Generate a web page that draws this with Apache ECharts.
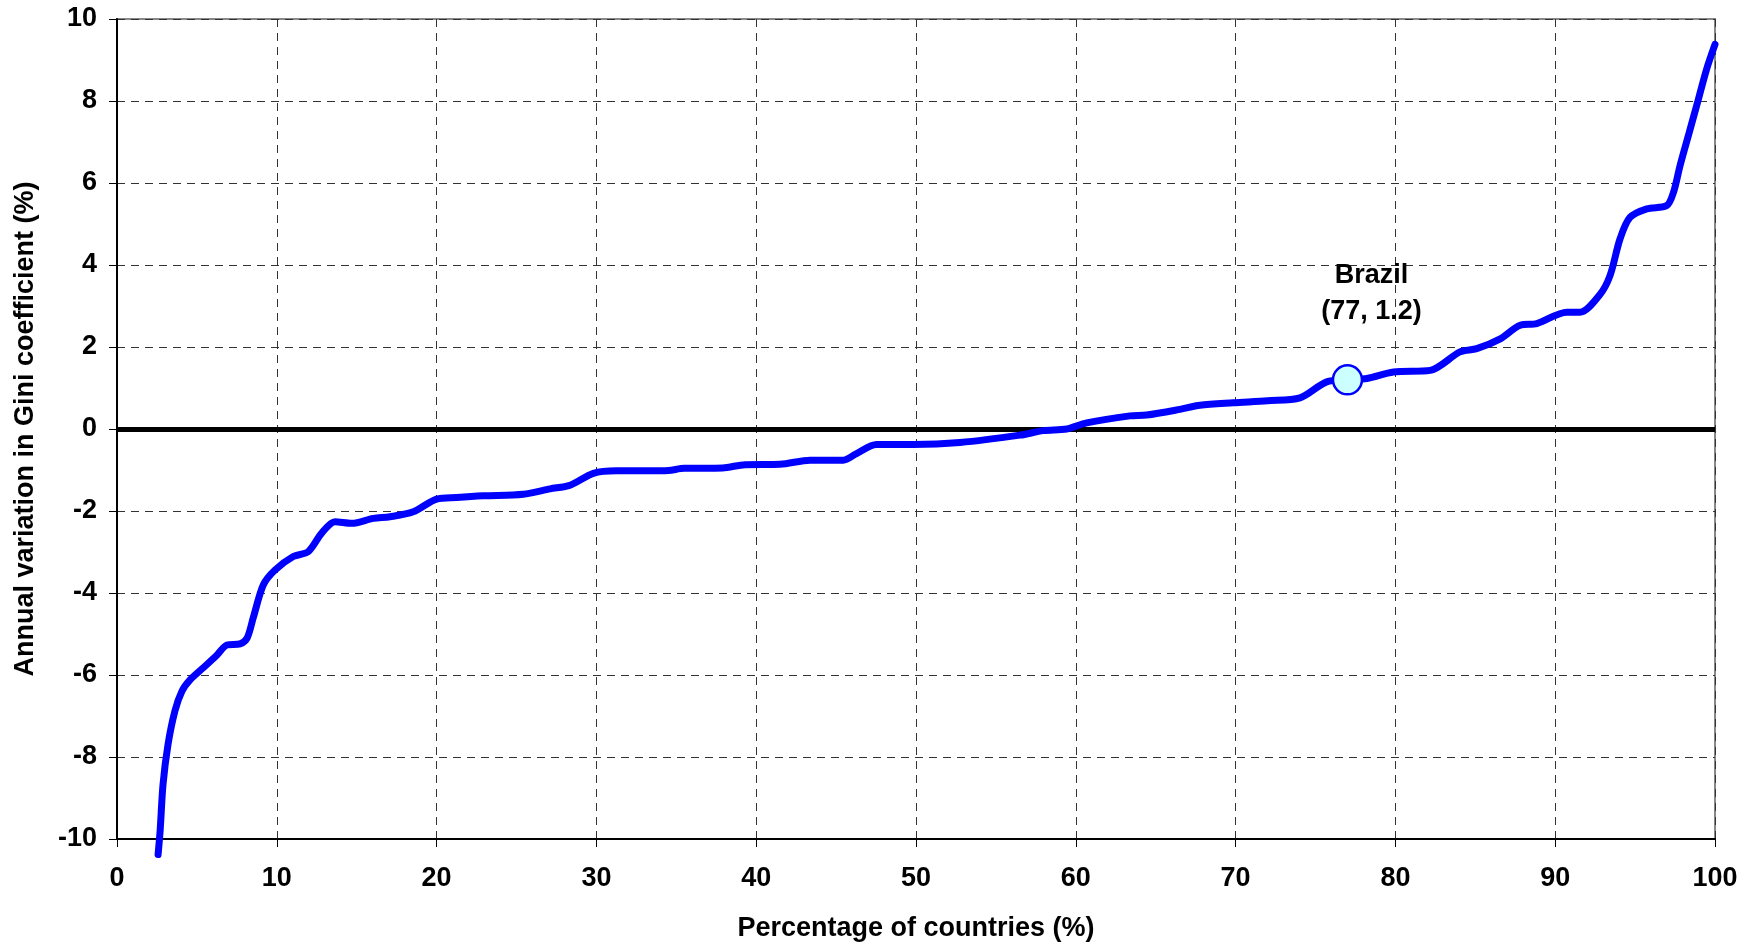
<!DOCTYPE html>
<html>
<head>
<meta charset="utf-8">
<script src="https://cdn.jsdelivr.net/npm/echarts@6/dist/echarts.min.js"></script>
<style>html,body{margin:0;padding:0;background:#fff}#c{width:1754px;height:947px}</style>
</head>
<body>
<div id="c"></div>
<script>
// Percentage of countries (%)
const pctCountries = [2.57, 2.7, 2.88, 3.19, 3.63, 4.07, 4.57, 5.38, 6.26, 6.88, 7.7, 8.14, 8.53, 9.16, 9.89, 11.03, 11.97, 12.81, 13.64, 14.69, 16.04, 17.08, 18.54, 20.0, 21.25, 22.92, 25.42, 27.1, 28.35, 29.81, 31.27, 33.35, 34.5, 35.5, 37.9, 39.3, 41.49, 43.37, 45.45, 46.28, 47.53, 49.83, 52.75, 56.51, 57.97, 59.43, 60.68, 63.38, 64.43, 66.52, 67.77, 69.86, 72, 74.03, 75.7, 77, 78.22, 79.88, 82.18, 84.04, 85.09, 86.56, 87.81, 88.85, 90.73, 91.55, 92.8, 93.43, 94.06, 94.68, 95.73, 96.98, 97.4, 97.81, 98.4, 98.96, 99.47, 100];
// Annual variation in Gini coefficient (%)
const giniVariation = [-10.38, -9.79, -8.67, -7.7, -6.87, -6.39, -6.12, -5.83, -5.51, -5.27, -5.24, -5.1, -4.6, -3.8, -3.44, -3.11, -2.99, -2.54, -2.26, -2.3, -2.18, -2.14, -2.02, -1.71, -1.67, -1.63, -1.59, -1.46, -1.37, -1.08, -1.02, -1.02, -1.01, -0.96, -0.95, -0.87, -0.86, -0.76, -0.76, -0.6, -0.38, -0.38, -0.33, -0.15, -0.04, 0.0, 0.15, 0.32, 0.34, 0.48, 0.58, 0.64, 0.69, 0.76, 1.15, 1.2, 1.23, 1.39, 1.43, 1.88, 1.96, 2.2, 2.53, 2.57, 2.85, 2.85, 3.28, 3.74, 4.64, 5.16, 5.37, 5.45, 5.77, 6.42, 7.25, 8.04, 8.77, 9.38];
const xTicks = [0, 10, 20, 30, 40, 50, 60, 70, 80, 90, 100];
const yTicks = [-10, -8, -6, -4, -2, 0, 2, 4, 6, 8, 10];
const highlightName = 'Brazil';
const highlightPoint = [77, 1.2];

const FONT = '"Liberation Sans", Arial, sans-serif';
const chart = echarts.init(document.getElementById('c'), null, {renderer: 'canvas'});
const gridLine = {show: true, lineStyle: {color: '#333', width: 1, type: [8, 6]}};
chart.setOption({
  animation: false,
  backgroundColor: '#fff',
  grid: {left: 117, right: 39, top: 19, bottom: 105, show: true, borderColor: '#888', borderWidth: 2, containLabel: false},
  xAxis: {
    type: 'value', min: xTicks[0], max: xTicks[xTicks.length - 1], interval: 10,
    name: 'Percentage of countries (%)', nameLocation: 'middle', nameGap: 76,
    nameTextStyle: {fontFamily: FONT, fontWeight: 'bold', fontSize: 27, color: '#000'},
    axisLine: {show: true, onZero: false, lineStyle: {color: '#000', width: 2}},
    axisTick: {show: true, length: 8, lineStyle: {color: '#000', width: 1}},
    axisLabel: {fontFamily: FONT, fontWeight: 'bold', fontSize: 27, color: '#000', margin: 26},
    splitLine: gridLine
  },
  yAxis: {
    type: 'value', min: yTicks[0], max: yTicks[yTicks.length - 1], interval: 2,
    name: 'Annual variation in Gini coefficient (%)', nameLocation: 'middle', nameGap: 78,
    nameTextStyle: {fontFamily: FONT, fontWeight: 'bold', fontSize: 27, color: '#000'},
    axisLine: {show: true, onZero: false, lineStyle: {color: '#000', width: 2}},
    axisTick: {show: true, length: 8, lineStyle: {color: '#000', width: 1}},
    axisLabel: {fontFamily: FONT, fontWeight: 'bold', fontSize: 27, color: '#000', margin: 20},
    splitLine: gridLine
  },
  series: [
    {
      type: 'line',
      data: pctCountries.map((x, i) => [x, giniVariation[i]]),
      smooth: 0.3,
      showSymbol: false,
      clip: false,
      lineStyle: {color: '#0000FF', width: 7, cap: 'round', join: 'round'},
      z: 3,
      markLine: {
        silent: true, symbol: 'none', label: {show: false},
        lineStyle: {color: '#000', width: 5, type: 'solid'},
        data: [{yAxis: 0}],
        z: 2
      }
    },
    {
      type: 'scatter',
      data: [highlightPoint],
      symbol: 'circle',
      symbolSize: 29,
      itemStyle: {color: '#CCFFFF', borderColor: '#0000FF', borderWidth: 2.5, opacity: 1},
      label: {
        show: true,
        formatter: highlightName + '\n(' + highlightPoint[0] + ', ' + highlightPoint[1] + ')',
        position: 'top', offset: [24, -30],
        fontFamily: FONT, fontWeight: 'bold', fontSize: 27, lineHeight: 36, color: '#000', align: 'center'
      },
      z: 5
    }
  ]
});
</script>
</body>
</html>
